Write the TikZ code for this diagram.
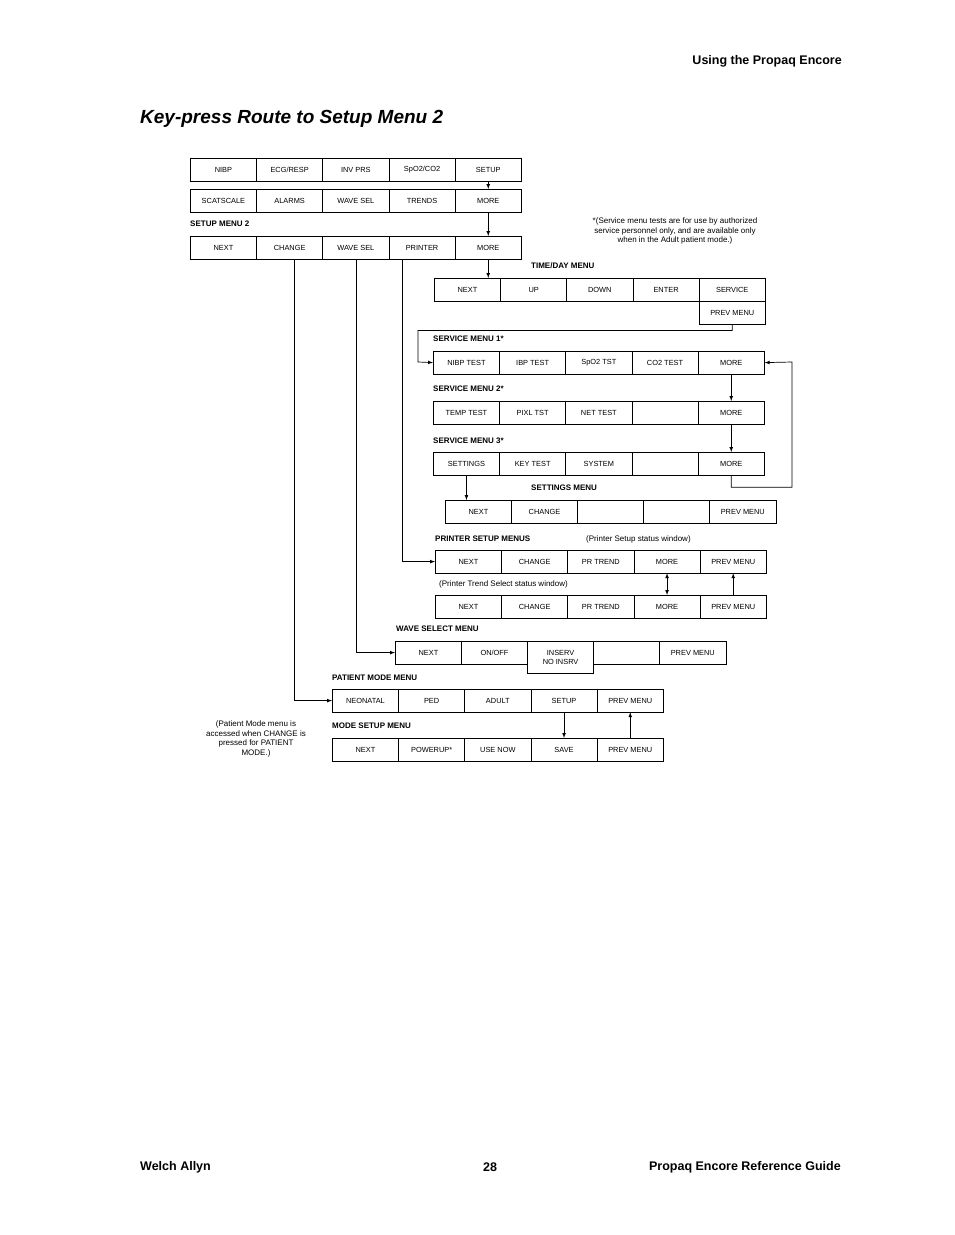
\documentclass[tikz,border=0pt]{standalone}
\usepackage{fontspec}
\setmainfont{Liberation Sans}
\usetikzlibrary{arrows,shapes,positioning,calc}

\tikzset{
  key/.style={draw, rectangle, line width=0.7pt, inner sep=0pt, minimum height=22.5pt,
    font=\fontsize{7.4}{8.5}\selectfont},
  menutitle/.style={anchor=west, inner sep=0pt, font=\fontsize{8}{9}\selectfont\bfseries},
  remark/.style={inner sep=0pt, font=\fontsize{8}{9.5}\selectfont},
  link/.style={line width=0.7pt, -latex}
}
% one row of keys: name, left x, top y, key width, labels
\newcommand\keyrow[5]{%
  \foreach \t [count=\i] in {#5}
    \node[key, minimum width=#4pt, anchor=north west] (#1-\i) at ({#2+(\i-1)*#4},#3) {\t};}

\begin{document}
\begin{tikzpicture}[x=1pt, y=-1pt]
    \useasboundingbox (0,0) rectangle (954,1235);

    % Page header and title
    \node[anchor=east, inner sep=0pt, font=\fontsize{12.5}{14}\selectfont\bfseries] (head) at (842,61) {Using the Propaq Encore};
    \node[anchor=west, inner sep=0pt, font=\fontsize{19}{22}\selectfont\bfseries\itshape] (title) at (140,119) {Key-press Route to Setup Menu 2};

    % Top menus
    \keyrow{main}{190}{158}{66.2}{NIBP,ECG/RESP,INV PRS,SpO2/CO2,SETUP}
    \keyrow{setup}{190}{189}{66.2}{SCATSCALE,ALARMS,WAVE SEL,TRENDS,MORE}
    \node[menutitle] (lsm2) at (190,224) {SETUP MENU 2};
    \keyrow{smtwo}{190}{236}{66.2}{NEXT,CHANGE,WAVE SEL,PRINTER,MORE}

    \node[remark, align=center] (note1) at (675,231) {*(Service menu tests are for use by authorized\\service personnel only, and are available only\\when in the Adult patient mode.)};

    % Time/day and service menus
    \node[menutitle] (ltd) at (531,266) {TIME/DAY MENU};
    \keyrow{td}{434}{278}{66.2}{NEXT,UP,DOWN,ENTER,SERVICE}
    \node[key, minimum width=66.2pt, anchor=north] (td-6) at (td-5.south) {PREV MENU};

    \node[menutitle] (lsv1) at (433,339) {SERVICE MENU 1*};
    \keyrow{svone}{433}{351}{66.2}{NIBP TEST,IBP TEST,SpO2 TST,CO2 TEST,MORE}
    \node[menutitle] (lsv2) at (433,389) {SERVICE MENU 2*};
    \keyrow{svtwo}{433}{401}{66.2}{TEMP TEST,PIXL TST,NET TEST,,MORE}
    \node[menutitle] (lsv3) at (433,441) {SERVICE MENU 3*};
    \keyrow{svthree}{433}{452}{66.2}{SETTINGS,KEY TEST,SYSTEM,,MORE}

    \node[menutitle] (lset) at (531,488) {SETTINGS MENU};
    \keyrow{set}{445}{500}{66.1}{NEXT,CHANGE,,,PREV MENU}

    % Printer menus
    \node[menutitle] (lpr) at (435,539) {PRINTER SETUP MENUS};
    \node[remark, anchor=west] (note2) at (586,539) {(Printer Setup status window)};
    \keyrow{pr}{435}{550}{66.2}{NEXT,CHANGE,PR TREND,MORE,PREV MENU}
    \node[remark, anchor=west] (note3) at (439,584) {(Printer Trend Select status window)};
    \keyrow{prt}{435}{595}{66.2}{NEXT,CHANGE,PR TREND,MORE,PREV MENU}

    % Wave select
    \node[menutitle] (lwv) at (396,629) {WAVE SELECT MENU};
    \keyrow{wv}{395}{641}{66.1}{NEXT,ON/OFF,,,PREV MENU}
    \node[key, minimum width=66.1pt, minimum height=32pt, align=center, anchor=north west, fill=white] (wv-3x) at (wv-3.north west) {INSERV\\NO INSRV};

    % Patient mode
    \node[menutitle] (lpm) at (332,678) {PATIENT MODE MENU};
    \keyrow{pm}{332}{689}{66.2}{NEONATAL,PED,ADULT,SETUP,PREV MENU}
    \node[menutitle] (lms) at (332,726) {MODE SETUP MENU};
    \keyrow{ms}{332}{738}{66.2}{NEXT,POWERUP*,USE NOW,SAVE,PREV MENU}
    \node[remark, align=center] (note4) at (256,739) {(Patient Mode menu is\\accessed when CHANGE is\\pressed for PATIENT\\MODE.)};

    % Connectors
    \draw[link] (main-5.south) -- (setup-5.north);
    \draw[link] (setup-5.south) -- (smtwo-5.north);
    \draw[link] (smtwo-5.south) -- (smtwo-5.south |- td-1.north);
    \draw[link] (td-6.south) -- ++(0,6) -| (418,362) -- (svone-1.west);
    \draw[link] (svone-5.south) -- (svtwo-5.north);
    \draw[link] (svtwo-5.south) -- (svthree-5.north);
    \draw[link] (svthree-5.south) -- ++(0,12) -| (792,362) -- (svone-5.east);
    \draw[link] (svthree-1.south) -- (svthree-1.south |- set-1.north);
    \draw[link] (smtwo-4.south -| 402,0) |- (pr-1.west);
    \draw[link] (smtwo-3.south) |- (wv-1.west);
    \draw[link] (smtwo-2.south -| 294,0) |- (pm-1.west);
    \draw[link, latex-latex] (pr-4.south) -- (prt-4.north);
    \draw[link] (prt-5.north) -- (pr-5.south);
    \draw[link] (pm-4.south) -- (ms-4.north);
    \draw[link] (ms-5.north) -- (pm-5.south);

    % Footer
    \node[anchor=west, inner sep=0pt, font=\fontsize{12.5}{14}\selectfont\bfseries] (foot1) at (140,1167) {Welch Allyn};
    \node[inner sep=0pt, font=\fontsize{12.5}{14}\selectfont\bfseries] (foot2) at (490,1167) {28};
    \node[anchor=east, inner sep=0pt, font=\fontsize{12.5}{14}\selectfont\bfseries] (foot3) at (841,1167) {Propaq Encore Reference Guide};
\end{tikzpicture}
\end{document}
